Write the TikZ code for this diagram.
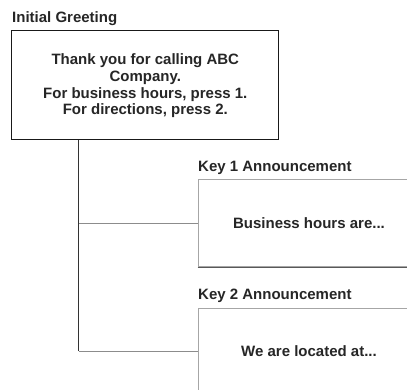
\documentclass[tikz,border=0pt]{standalone}
\usepackage{fontspec}
\setmainfont{Liberation Sans}
\begin{document}
\begin{tikzpicture}[x=1pt,y=-1pt,
  lbl/.style={anchor=base west,inner sep=0pt,font=\bfseries\fontsize{15}{16.7}\selectfont,text=black!85},
  mainbox/.style={draw=black!90,line width=0.9pt,minimum width=267pt,minimum height=109pt,inner sep=0pt,align=center,font=\bfseries\fontsize{15}{16.7}\selectfont,text=black!85},
  keybox/.style={draw=black!35,line width=0.9pt,minimum width=222pt,minimum height=86.7pt,inner sep=0pt,font=\bfseries\fontsize{15}{16.7}\selectfont,text=black!85},
  trunk/.style={draw=black!80,line width=0.9pt},
  branch/.style={draw=black!45,line width=0.9pt}]
\useasboundingbox (0,0) rectangle (407,390);
\clip (0,0) rectangle (407,390);
\fill[white] (0,0) rectangle (407,390);
% labels
\node[lbl] (lg) at (12,22.7) {Initial Greeting};
\node[lbl] (l1) at (198,172) {Key 1 Announcement};
\node[lbl] (l2) at (198,299.3) {Key 2 Announcement};
% boxes
\node[mainbox] (main) at (145.3,85.3) {};
\node[anchor=base,inner sep=0pt,align=center,font=\bfseries\fontsize{15}{16.7}\selectfont,text=black!85] (maintext) at (145.3,115)
  {Thank you for calling ABC\\Company.\\For business hours, press 1.\\For directions, press 2.};
\node[keybox] (k1) at (309,223.3) {};
\node[keybox] (k2) at (309,351.3) {};
\draw[black!65,line width=1.2pt] (k1.south west) -- (k1.south east);
\node[anchor=base,inner sep=0pt,font=\bfseries\fontsize{15}{16.7}\selectfont,text=black!85] (t1) at (309,228.3) {Business hours are...};
\node[anchor=base,inner sep=0pt,font=\bfseries\fontsize{15}{16.7}\selectfont,text=black!85] (t2) at (309,356.7) {We are located at...};
% connectors
\coordinate (j) at (78.7,140);
\coordinate (j1) at (j |- k1.west);
\coordinate (j2) at (j |- k2.west);
\draw[trunk] (j) -- (j2);
\draw[branch] (j1) -- (k1.west);
\draw[branch] (j2) -- (k2.west);
\end{tikzpicture}
\end{document}
